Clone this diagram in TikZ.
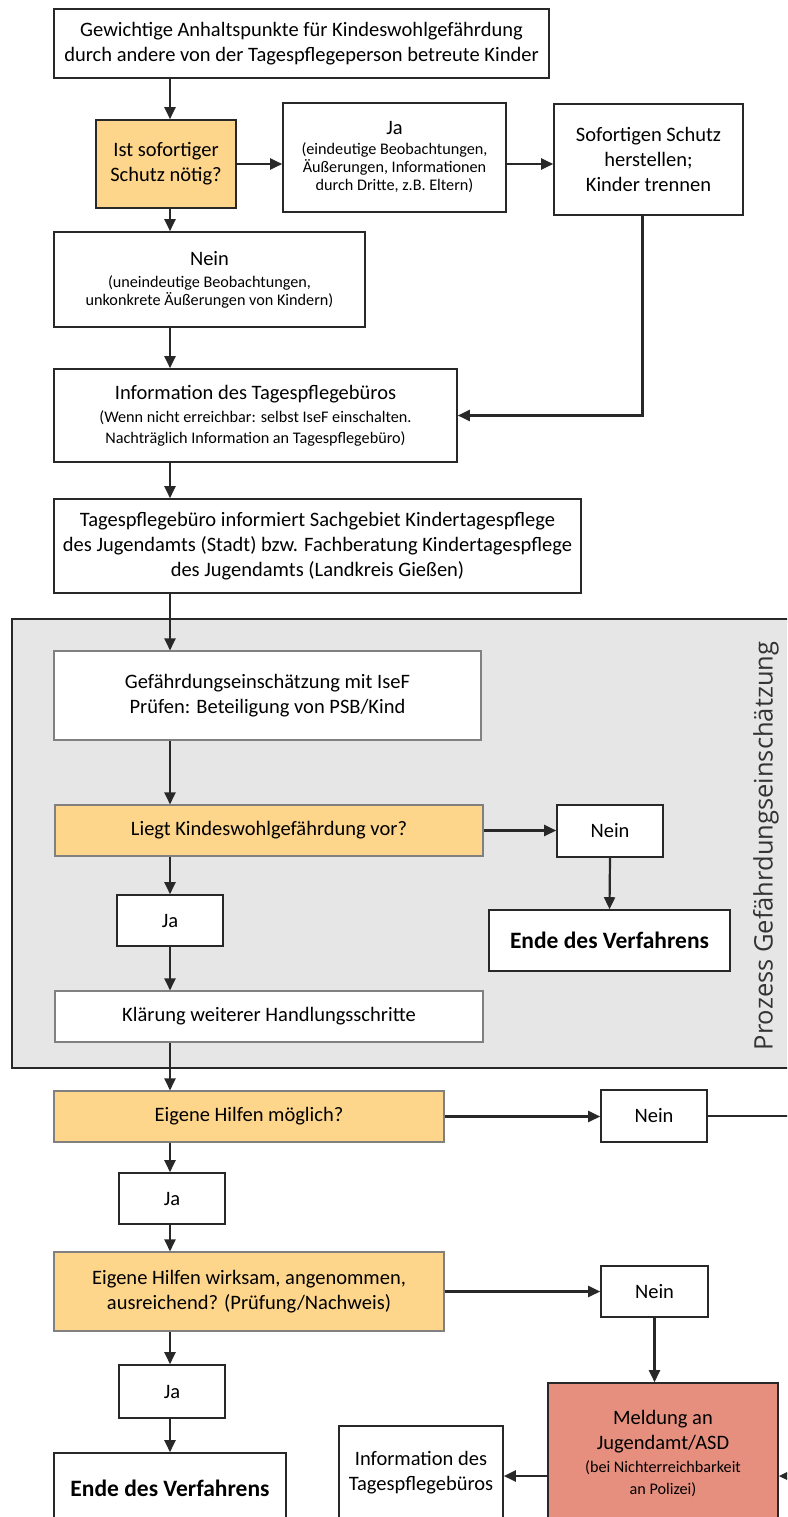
\documentclass[tikz,border=0pt]{standalone}
\usepackage{fontspec}
\setmainfont{Carlito}
\newfontfamily\labelfont{Open Sans}
\usepackage{tikz}
\usetikzlibrary{arrows.meta,positioning}
\definecolor{askorange}{RGB}{253,213,139}
\definecolor{alarm}{RGB}{230,143,127}
\definecolor{procgray}{RGB}{230,230,230}
\definecolor{frame}{RGB}{40,40,40}
\newcommand{\klein}{\fontsize{16.2}{20}\selectfont}

\begin{document}
\begin{tikzpicture}[x=1pt,y=-1pt,
  box/.style={draw=frame,line width=1.6pt,fill=white,align=center,inner sep=0pt,
    font=\fontsize{20.5}{25}\selectfont,text=black},
  soft/.style={box,draw=black!50,line width=1.1pt},
  ask/.style={soft,fill=askorange},
  arr/.style={-{Triangle[length=12pt,width=11pt]},line width=2.2pt,draw=frame}]
\useasboundingbox (0,0) rectangle (787,1517);
\clip (0,0) rectangle (787,1517);
\coordinate (col) at (170,0);
\coordinate (rand) at (800,1476);
\draw[fill=procgray,draw=frame,line width=1.6pt] (12,619) rectangle (800,1068);

\node[box,minimum width=495pt,minimum height=69pt] (start) at (301.5,43.5)
  {Gewichtige Anhaltspunkte für Kindeswohlgefährdung\\durch andere von der Tagespflegeperson betreute Kinder};
\node[box,fill=askorange,minimum width=140pt,minimum height=88pt] (schutz) at (166,164) {Ist sofortiger\\Schutz nötig?};
\node[box,minimum width=223pt,minimum height=109pt] (jaDritte) at (394.5,157.5)
  {Ja\\[-5pt]\klein(eindeutige Beobachtungen,\\[-7pt]\klein Äußerungen, Informationen\\[-7pt]\klein durch Dritte, z.B. Eltern)};
\node[box,minimum width=189pt,minimum height=111pt] (trennen) at (648.5,159.5) {Sofortigen Schutz\\herstellen;\\Kinder trennen};
\node[box,minimum width=311pt,minimum height=95pt] (neinUnklar) at (209.5,279.5)
  {Nein\\[-3pt]\klein(uneindeutige Beobachtungen,\\[-7pt]\klein unkonkrete Äußerungen von Kindern)};
\node[box,minimum width=403pt,minimum height=93pt] (buero) at (255.5,415.5)
  {Information des Tagespflegebüros\\[-2pt]\klein(Wenn nicht erreichbar: selbst IseF einschalten.\\[-4pt]\klein Nachträglich Information an Tagespflegebüro)};
\node[box,minimum width=527pt,minimum height=94pt] (sachgebiet) at (317.5,546)
  {Tagespflegebüro informiert Sachgebiet Kindertagespflege\\des Jugendamts (Stadt) bzw. Fachberatung Kindertagespflege\\des Jugendamts (Landkreis Gießen)};

\node[soft,minimum width=427pt,minimum height=89pt] (einschaetzung) at (267.5,695.5)
  {Gefährdungseinschätzung mit IseF\\Prüfen: Beteiligung von PSB/Kind};
\node[ask,minimum width=428pt,minimum height=51pt] (liegt) at (269,830.5) {Liegt Kindeswohlgefährdung vor?};
\node[box,minimum width=106pt,minimum height=52pt] (neinKwg) at (610,831) {Nein};
\node[box,minimum width=241pt,minimum height=61pt,font=\fontsize{23.5}{27}\selectfont\bfseries] (endeKwg) at (609.5,940.5) {Ende des Verfahrens};
\node[box,minimum width=106pt,minimum height=51pt] (jaKwg) at (170,920.5) {Ja};
\node[soft,minimum width=428pt,minimum height=51pt] (klaerung) at (269,1016.5) {Klärung weiterer Handlungsschritte};
\node[rotate=90,font=\labelfont\fontsize{25.5}{30}\selectfont,text=black!80] (prozess) at (766,846) {Prozess Gefährdungseinschätzung};

\node[ask,minimum width=390pt,minimum height=51pt] (moeglich) at (249,1116.5) {Eigene Hilfen möglich?};
\node[box,minimum width=106pt,minimum height=52pt] (neinMoeglich) at (654,1116) {Nein};
\node[box,minimum width=106pt,minimum height=51pt] (jaMoeglich) at (172,1198.5) {Ja};
\node[ask,minimum width=390pt,minimum height=79pt] (wirksam) at (249,1291.5)
  {Eigene Hilfen wirksam, angenommen,\\ausreichend? (Prüfung/Nachweis)};
\node[box,minimum width=107pt,minimum height=51pt] (neinWirksam) at (654.5,1291.5) {Nein};
\node[box,minimum width=106pt,minimum height=53pt] (jaWirksam) at (172,1391.5) {Ja};
\node[box,minimum width=232pt,minimum height=70pt,font=\fontsize{23.5}{27}\selectfont\bfseries] (ende) at (170,1488) {Ende des Verfahrens};
\node[box,minimum width=164pt,minimum height=94pt] (bueroInfo) at (421,1473) {Information des\\Tagespflegebüros};
\node[box,fill=alarm,minimum width=230pt,minimum height=140pt] (meldung) at (663,1453)
  {Meldung an\\Jugendamt/ASD\\[-2pt]\klein(bei Nichterreichbarkeit\\[-3pt]\klein an Polizei)};

\draw[arr] (start.south -| col) -- (schutz.north -| col);
\draw[arr] (schutz.east) -- (schutz.east -| jaDritte.west);
\draw[arr] (schutz.east -| jaDritte.east) -- (schutz.east -| trennen.west);
\draw[arr] (schutz.south -| col) -- (neinUnklar.north -| col);
\draw[arr] (neinUnklar.south -| col) -- (buero.north -| col);
\draw[arr] ([xshift=-6pt]trennen.south) |- (buero.east);
\draw[arr] (buero.south -| col) -- (sachgebiet.north -| col);
\draw[arr] (sachgebiet.south -| col) -- (einschaetzung.north -| col);
\draw[arr] (einschaetzung.south -| col) -- (liegt.north -| col);
\draw[arr] (liegt.east) -- (liegt.east -| neinKwg.west);
\draw[arr] (neinKwg.south) -- (endeKwg.north);
\draw[arr] (liegt.south -| col) -- (jaKwg.north -| col);
\draw[arr] (jaKwg.south -| col) -- (klaerung.north -| col);
\draw[arr] (klaerung.south -| col) -- (moeglich.north -| col);
\draw[arr] (moeglich.east) -- (moeglich.east -| neinMoeglich.west);
\draw[arr] (neinMoeglich.east) -- (neinMoeglich.east -| rand) -- (rand) -- (rand -| meldung.east);
\draw[arr] (moeglich.south -| col) -- (jaMoeglich.north -| col);
\draw[arr] (jaMoeglich.south -| col) -- (wirksam.north -| col);
\draw[arr] (wirksam.east) -- (wirksam.east -| neinWirksam.west);
\draw[arr] (neinWirksam.south) -- (meldung.north -| neinWirksam.south);
\draw[arr] (wirksam.south -| col) -- (jaWirksam.north -| col);
\draw[arr] (jaWirksam.south -| col) -- (ende.north -| col);
\draw[arr] (meldung.west |- rand) -- (bueroInfo.east |- rand);
\end{tikzpicture}
\end{document}
